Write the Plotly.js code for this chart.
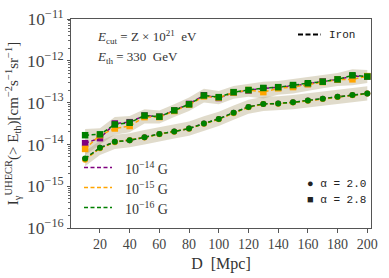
<!DOCTYPE html>
<html><head><meta charset="utf-8">
<script src="https://cdn.plot.ly/plotly-3.0.1.min.js"></script>
<style>html,body{margin:0;padding:0;background:#fff}#c{width:389px;height:278px}</style>
</head><body><div id="c"></div>
<script>
// Distance D [Mpc]
const distance = [10,20,30,40,50,60,70,80,90,100,110,120,130,140,150,160,170,180,190,200];

// alpha = 2.8 (squares)
const a28_B14 = [1.07e-14,1.41e-14,3.16e-14,3.4e-14,4.9e-14,4.6e-14,6.5e-14,9.3e-14,1.5e-13,1.29e-13,1.74e-13,1.95e-13,2.2e-13,2.3e-13,2.5e-13,2.8e-13,3.2e-13,3.55e-13,4.3e-13,4.2e-13];
const a28_B15 = [7.8e-15,1.66e-14,2.4e-14,2.75e-14,4.5e-14,4.5e-14,6.3e-14,8.9e-14,1.41e-13,1.32e-13,1.74e-13,2.0e-13,1.78e-13,2.2e-13,2.35e-13,2.75e-13,3.1e-13,3.55e-13,3.6e-13,4.3e-13];
const a28_B16 = [1.66e-14,1.74e-14,3.0e-14,3.3e-14,4.9e-14,4.6e-14,6.5e-14,9.1e-14,1.48e-13,1.35e-13,1.78e-13,2.0e-13,2.24e-13,2.34e-13,2.63e-13,2.9e-13,3.16e-13,3.6e-13,4.5e-13,4.2e-13];

// alpha = 2.0 (circles)
const a20_B14 = [4.5e-15,8.3e-15,1.15e-14,1.26e-14,1.48e-14,1.78e-14,2.04e-14,2.4e-14,3.16e-14,4.07e-14,5.75e-14,7.9e-14,9.3e-14,9.5e-14,1.02e-13,1.12e-13,1.23e-13,1.38e-13,1.51e-13,1.66e-13];
const a20_B15 = [4.3e-15,8.1e-15,1.13e-14,1.26e-14,1.46e-14,1.76e-14,2.02e-14,2.38e-14,3.1e-14,4.0e-14,5.6e-14,7.7e-14,9.2e-14,9.4e-14,1.0e-13,1.1e-13,1.22e-13,1.36e-13,1.5e-13,1.65e-13];
const a20_B16 = [4.6e-15,8.3e-15,1.15e-14,1.26e-14,1.48e-14,1.78e-14,2.04e-14,2.4e-14,3.16e-14,4.07e-14,5.75e-14,7.9e-14,9.3e-14,9.5e-14,1.02e-13,1.12e-13,1.23e-13,1.38e-13,1.51e-13,1.66e-13];

// uncertainty bands
const band28_lo = [5.5e-15,1.0e-14,1.7e-14,1.95e-14,3.16e-14,3.16e-14,4.5e-14,6.3e-14,1.0e-13,9.1e-14,1.23e-13,1.38e-13,1.26e-13,1.55e-13,1.66e-13,1.95e-13,2.2e-13,2.5e-13,2.6e-13,2.95e-13];
const band28_hi = [2.35e-14,2.45e-14,4.5e-14,4.8e-14,6.9e-14,6.5e-14,9.1e-14,1.32e-13,2.15e-13,1.9e-13,2.5e-13,2.8e-13,3.16e-13,3.3e-13,3.7e-13,4.1e-13,4.6e-13,5.1e-13,6.3e-13,6.0e-13];
const band20_lo = [3.0e-15,5.6e-15,7.8e-15,8.5e-15,1.0e-14,1.2e-14,1.38e-14,1.62e-14,2.15e-14,2.75e-14,3.9e-14,5.4e-14,6.3e-14,6.5e-14,6.9e-14,7.6e-14,8.3e-14,9.3e-14,1.02e-13,1.12e-13];
const band20_hi = [6.9e-15,1.23e-14,1.7e-14,1.86e-14,2.2e-14,2.6e-14,3.0e-14,3.55e-14,4.7e-14,6.0e-14,8.5e-14,1.17e-13,1.38e-13,1.41e-13,1.51e-13,1.66e-13,1.82e-13,2.04e-13,2.24e-13,2.45e-13];

const fieldLabels = ['10<sup>−14</sup> G','10<sup>−15</sup> G','10<sup>−16</sup> G'];
const fieldColors = ['#800080','#FFA500','#008000'];
const xTicks = [20,40,60,80,100,120,140,160,180,200];
const yMinorTicks = [];
for (let e=-16;e<-11;e++){ for (let m=2;m<=9;m++){ yMinorTicks.push(m*Math.pow(10,e)); } }

const bandFill = 'rgba(180,170,130,0.42)';
const traces = [];
function band(lo, hi){
  traces.push({x:distance,y:lo,mode:'lines',line:{width:0,color:'rgba(0,0,0,0)'},hoverinfo:'skip',showlegend:false});
  traces.push({x:distance,y:hi,mode:'lines',line:{width:0,color:'rgba(0,0,0,0)'},fill:'tonexty',fillcolor:bandFill,hoverinfo:'skip',showlegend:false});
}
band(band28_lo, band28_hi);
band(band20_lo, band20_hi);

const dashStyle = '4px,2.5px';
const s28 = [a28_B14,a28_B15,a28_B16];
const s20 = [a20_B14,a20_B15,a20_B16];
for (let i=0;i<3;i++){
  traces.push({x:distance,y:s20[i],mode:'lines+markers',line:{color:fieldColors[i],width:1.5,dash:dashStyle},
    marker:{symbol:'circle',size:6,color:fieldColors[i]},showlegend:false});
  traces.push({x:distance,y:s28[i],mode:'lines+markers',line:{color:fieldColors[i],width:1.5,dash:dashStyle},
    marker:{symbol:'square',size:6.5,color:fieldColors[i]},showlegend:false});
}
// invisible trace on overlay axis for minor ticks
traces.push({x:[distance[0]],y:[a20_B16[0]],yaxis:'y2',mode:'markers',marker:{opacity:0},hoverinfo:'skip',showlegend:false});

const serif = 'Liberation Serif, DejaVu Serif, serif';
const mono = 'Liberation Mono, DejaVu Sans Mono, monospace';
const shapes = [];
const annotations = [];
const legY = [167.5, 187.5, 207.5];
for (let i=0;i<3;i++){
  shapes.push({type:'line',xref:'paper',yref:'paper',x0:(84-71)/300,x1:(112-71)/300,
    y0:(228-legY[i])/209,y1:(228-legY[i])/209,line:{color:fieldColors[i],width:1.5,dash:dashStyle}});
  annotations.push({xref:'paper',yref:'paper',x:(123-71)/300,y:(228-legY[i])/209,xanchor:'left',yanchor:'middle',
    text:fieldLabels[i],showarrow:false,font:{family:serif,size:14,color:'#333'}});
}
shapes.push({type:'line',xref:'paper',yref:'paper',x0:(298-71)/300,x1:(321-71)/300,y0:(228-34.5)/209,y1:(228-34.5)/209,
  line:{color:'#000',width:2,dash:'5px,2.5px'}});
annotations.push({xref:'paper',yref:'paper',x:(327-71)/300,y:(228-34.5)/209,xanchor:'left',yanchor:'middle',
  text:'Iron',showarrow:false,font:{family:mono,size:11,color:'#222'}});
annotations.push({xref:'paper',yref:'paper',x:(305-71)/300,y:(228-184)/209,xanchor:'left',yanchor:'middle',
  text:'● α = 2.0',showarrow:false,font:{family:mono,size:11,color:'#222'}});
annotations.push({xref:'paper',yref:'paper',x:(305-71)/300,y:(228-200)/209,xanchor:'left',yanchor:'middle',
  text:'■ α = 2.8',showarrow:false,font:{family:mono,size:11,color:'#222'}});
annotations.push({xref:'paper',yref:'paper',x:(95-71)/300,y:(228-37)/209,xanchor:'left',yanchor:'middle',
  text:'<i>E</i><sub>cut</sub> = Z × 10<sup>21</sup>  eV',showarrow:false,font:{family:serif,size:13,color:'#333'}});
annotations.push({xref:'paper',yref:'paper',x:(95-71)/300,y:(228-58)/209,xanchor:'left',yanchor:'middle',
  text:'<i>E</i><sub>th</sub> = 330  GeV',showarrow:false,font:{family:serif,size:13,color:'#333'}});

const layout = {
  width:389,height:278,
  margin:{l:71,r:18,t:19,b:50,pad:0},
  paper_bgcolor:'#fff',plot_bgcolor:'#fff',
  showlegend:false,
  font:{family:serif,size:13,color:'#444'},
  xaxis:{range:[0.5,202.5],tickvals:xTicks,ticks:'outside',ticklen:3.5,tickcolor:'#555',
    showgrid:false,zeroline:false,showline:true,linecolor:'#555',linewidth:1,mirror:true,
    tickfont:{family:serif,size:14,color:'#444'},
    title:{text:'D  [Mpc]',font:{family:serif,size:16,color:'#333'},standoff:6}},
  yaxis:{type:'log',range:[-16,-11],dtick:1,exponentformat:'power',ticks:'outside',ticklen:3.5,tickcolor:'#555',
    showgrid:false,zeroline:false,showline:true,linecolor:'#555',linewidth:1,mirror:true,
    tickfont:{family:serif,size:14,color:'#444'},
    title:{text:'I<sub>γ</sub><sup>UHECR</sup>(> E<sub>th</sub>)[cm<sup>−2</sup>s<sup>−1</sup>sr<sup>−1</sup>]',font:{family:serif,size:15,color:'#333'},standoff:4}},
  yaxis2:{type:'log',range:[-16,-11],overlaying:'y',side:'left',tickvals:yMinorTicks,showticklabels:false,
    ticks:'outside',ticklen:2,tickcolor:'#666',showgrid:false,zeroline:false,showline:false},
  shapes:shapes,annotations:annotations
};
Plotly.newPlot('c',traces,layout,{staticPlot:true,displayModeBar:false});
</script></body></html>
